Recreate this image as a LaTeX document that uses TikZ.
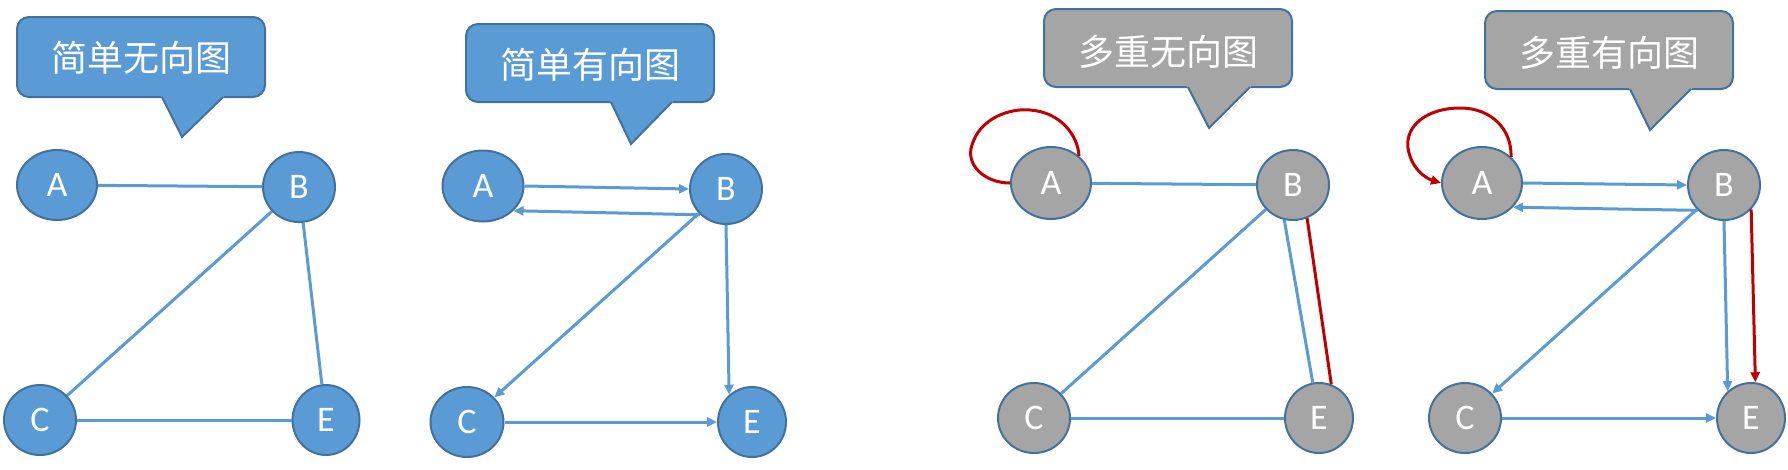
\documentclass[tikz,border=0pt]{standalone}
\usepackage{fontspec}
\setmainfont{Carlito}
\newfontfamily\cjk{Noto Sans CJK SC}
\usetikzlibrary{shapes.geometric,arrows.meta}
\definecolor{vblue}{HTML}{5B9BD5}
\definecolor{vborder}{HTML}{41719C}
\definecolor{vgray}{HTML}{A5A5A5}
\definecolor{vred}{HTML}{C00000}
\tikzset{
  vtx/.style={ellipse, draw=vborder, line width=2pt, inner sep=0pt, text=white,
              font=\fontsize{36}{36}\selectfont},
  bvtx/.style={vtx, fill=vblue},
  gvtx/.style={vtx, fill=vgray},
  edge/.style={draw=vblue, line width=3pt},
  darc/.style={edge, -{Triangle[length=10pt,width=9pt]}},
  redge/.style={draw=vred, line width=3pt},
  rarc/.style={redge, -{Triangle[length=10pt,width=9pt]}},
  ctext/.style={text=white, font=\cjk\fontsize{36}{36}\selectfont},
  cbox/.style={draw=vborder, line width=2pt, rounded corners=12pt},
  ctail/.style={draw=vborder, line width=2pt, line join=miter},
}
\begin{document}
\begin{tikzpicture}[x=1pt, y=-1pt]
\useasboundingbox (0,0) rectangle (1788,469);

% ---------- callouts ----------
% 1
\draw[cbox, fill=vblue] (17,17) rectangle (265,97);
\fill[vblue] (161,94) -- (161,97) -- (182,137) -- (224,97) -- (224,94) -- cycle;
\draw[ctail] (162,97) -- (182,137) -- (223,97);
\node[ctext] (t1) at (141,58) {简单无向图};
% 2
\draw[cbox, fill=vblue] (466,24) rectangle (714,102);
\fill[vblue] (610,99) -- (610,102) -- (631,144) -- (673,102) -- (673,99) -- cycle;
\draw[ctail] (611,102) -- (631,144) -- (672,102);
\node[ctext] (t2) at (590,65) {简单有向图};
% 3
\draw[cbox, fill=vgray] (1044,9) rectangle (1292,87);
\fill[vgray] (1187,84) -- (1187,87) -- (1209,128) -- (1251,87) -- (1251,84) -- cycle;
\draw[ctail] (1188,87) -- (1209,128) -- (1250,87);
\node[ctext] (t3) at (1168,52) {多重无向图};
% 4
\draw[cbox, fill=vgray] (1485,11) rectangle (1733,89);
\fill[vgray] (1629,86) -- (1629,89) -- (1650,130) -- (1692,89) -- (1692,86) -- cycle;
\draw[ctail] (1630,89) -- (1650,130) -- (1691,89);
\node[ctext] (t4) at (1609,53) {多重有向图};

% ---------- panel 1: simple undirected ----------
\node[bvtx, minimum width=80pt, minimum height=70pt] (A1) at (57,185) {A};
\node[bvtx, minimum width=72pt, minimum height=70pt] (B1) at (299,187) {B};
\node[bvtx, minimum width=72pt, minimum height=70pt] (C1) at (40,420) {C};
\node[bvtx, minimum width=67pt, minimum height=70pt] (E1) at (326,420) {E};
\draw[edge] (A1) -- (B1);
\draw[edge] (B1) -- (C1);
\draw[edge] (B1) -- (E1);
\draw[edge] (C1) -- (E1);

% ---------- panel 2: simple directed ----------
\node[bvtx, minimum width=81pt, minimum height=71pt] (A2) at (483,186) {A};
\node[bvtx, minimum width=72pt, minimum height=70pt] (B2) at (726,189) {B};
\node[bvtx, minimum width=73pt, minimum height=70pt] (C2) at (467,422) {C};
\node[bvtx, minimum width=68pt, minimum height=70pt] (E2) at (752,422) {E};
\draw[darc] (A2.east) -- (B2.west);
\draw[darc] (B2.225) -- (A2.321);
\draw[darc] (B2) -- (C2);
\draw[darc] (B2.south) -- (E2.130);
\draw[darc] (C2.east) -- (E2.west);

% ---------- panel 3: multi undirected ----------
\node[gvtx, minimum width=80pt, minimum height=72pt] (A3) at (1051,183) {A};
\node[gvtx, minimum width=72pt, minimum height=70pt] (B3) at (1293,185) {B};
\node[gvtx, minimum width=72pt, minimum height=70pt] (C3) at (1034,418) {C};
\node[gvtx, minimum width=68pt, minimum height=70pt] (E3) at (1319,418) {E};
\draw[edge] (A3) -- (B3);
\draw[edge] (B3) -- (C3);
\draw[edge] (C3) -- (E3);
\draw[edge] (B3.256) -- (E3.100);
\draw[redge] (B3.293) -- (E3.70);
\draw[redge] (A3.west) .. controls (985,183) and (965,165) .. (972,145)
                       .. controls (980,118) and (1010,108) .. (1030,110)
                       .. controls (1060,112) and (1078,135) .. (A3.44);

% ---------- panel 4: multi directed ----------
\node[gvtx, minimum width=80pt, minimum height=72pt] (A4) at (1482,183) {A};
\node[gvtx, minimum width=72pt, minimum height=70pt] (B4) at (1724,185) {B};
\node[gvtx, minimum width=72pt, minimum height=70pt] (C4) at (1465,418) {C};
\node[gvtx, minimum width=68pt, minimum height=70pt] (E4) at (1751,418) {E};
\draw[darc] (A4.east) -- (B4.west);
\draw[darc] (B4.224) -- (A4.322);
\draw[darc] (B4) -- (C4);
\draw[darc] (B4.south) -- (E4.131);
\draw[darc] (C4.east) -- (E4.west);
\draw[rarc] (B4.318) -- (E4.83);
\draw[rarc] (A4.42) .. controls (1512,130) and (1492,108) .. (1460,108)
                    .. controls (1428,108) and (1405,125) .. (1408,148)
                    .. controls (1411,168) and (1425,178) .. (A4.west);
\end{tikzpicture}
\end{document}
